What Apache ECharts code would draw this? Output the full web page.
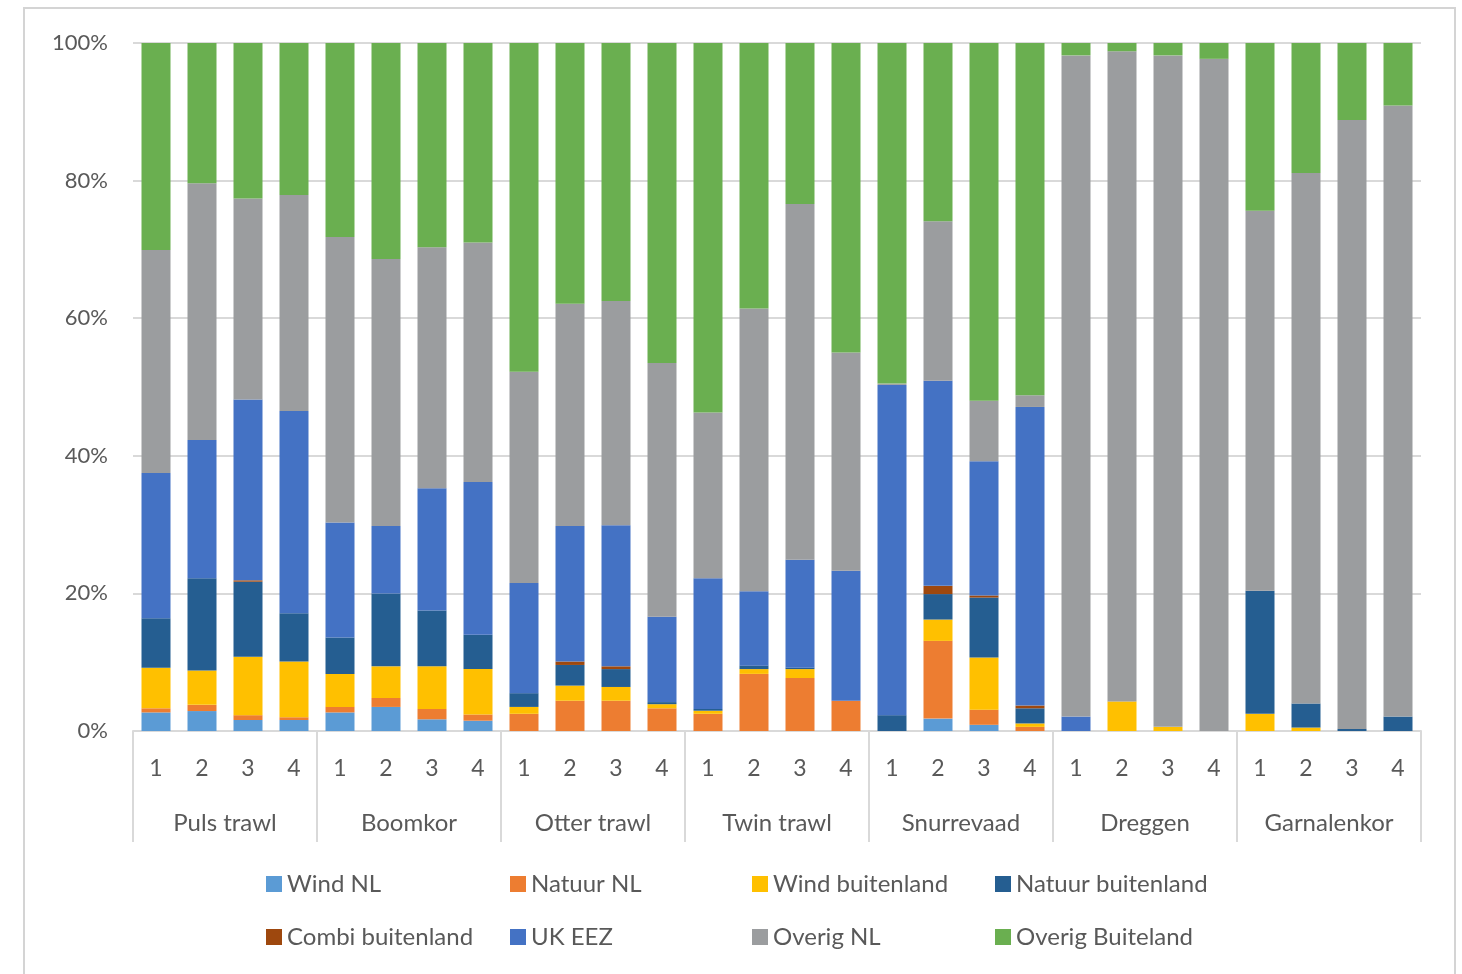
<!DOCTYPE html>
<html>
<head>
<meta charset="utf-8">
<script src="https://cdn.jsdelivr.net/npm/echarts@6/dist/echarts.min.js"></script>
<style>
  html, body { margin: 0; padding: 0; background: #fff; }
  #chart { width: 1462px; height: 974px; }
</style>
</head>
<body>
<div id="chart"></div>
<script>
// gear types and the four sub-bars per group
const groups = ['Puls trawl', 'Boomkor', 'Otter trawl', 'Twin trawl', 'Snurrevaad', 'Dreggen', 'Garnalenkor']
const subLabels = ['1', '2', '3', '4']
const yTicks = [0, 20, 40, 60, 80, 100]

// shares (%) per bar, 7 groups x 4 bars
const windNL = [2.7, 2.9, 1.6, 1.6, 2.7, 3.5, 1.7, 1.5, 0, 0, 0, 0, 0, 0, 0, 0, 0, 1.8, 0.9, 0, 0, 0, 0, 0, 0, 0, 0, 0]
const natuurNL = [0.6, 0.9, 0.7, 0.4, 0.8, 1.3, 1.5, 0.9, 2.5, 4.4, 4.4, 3.3, 2.5, 8.3, 7.7, 4.4, 0, 11.3, 2.2, 0.6, 0, 0, 0, 0, 0, 0, 0, 0]
const windBuitenland = [5.9, 5.0, 8.5, 8.1, 4.8, 4.6, 6.2, 6.6, 1.0, 2.2, 2.0, 0.6, 0.45, 0.7, 1.3, 0, 0, 3.1, 7.6, 0.5, 0, 4.3, 0.6, 0, 2.5, 0.5, 0, 0]
const natuurBuitenland = [7.2, 13.4, 10.9, 7.0, 5.3, 10.6, 8.1, 5.0, 2.0, 3.0, 2.6, 0.3, 0.25, 0.5, 0.2, 0, 2.3, 3.7, 8.7, 2.2, 0, 0, 0, 0, 17.9, 3.5, 0.3, 2.1]
const combiBuitenland = [0, 0, 0.2, 0, 0, 0, 0, 0, 0, 0.5, 0.4, 0, 0, 0, 0, 0, 0, 1.2, 0.3, 0.4, 0, 0, 0, 0, 0, 0, 0, 0]
const ukEEZ = [21.1, 20.1, 26.3, 29.4, 16.7, 9.8, 17.8, 22.2, 16.0, 19.7, 20.5, 12.4, 19.0, 10.8, 15.7, 18.9, 48.0, 29.8, 19.5, 43.4, 2.1, 0, 0, 0, 0, 0, 0, 0]
const overigNL = [32.4, 37.3, 29.2, 31.4, 41.5, 38.8, 35.0, 34.8, 30.7, 32.3, 32.6, 36.9, 24.1, 41.1, 51.7, 31.7, 0.2, 23.2, 8.8, 1.7, 96.1, 94.5, 97.6, 97.7, 55.2, 77.1, 88.5, 88.8]
const overigBuiteland = [30.1, 20.4, 22.6, 22.1, 28.2, 31.4, 29.7, 29.0, 47.8, 37.9, 37.5, 46.5, 53.7, 38.6, 23.4, 45.0, 49.5, 25.9, 52.0, 51.2, 1.8, 1.2, 1.8, 2.3, 24.4, 18.9, 11.2, 9.1]

const seriesNames = ['Wind NL', 'Natuur NL', 'Wind buitenland', 'Natuur buitenland', 'Combi buitenland', 'UK EEZ', 'Overig NL', 'Overig Buiteland']
const seriesData = [windNL, natuurNL, windBuitenland, natuurBuitenland, combiBuitenland, ukEEZ, overigNL, overigBuiteland]
const colors = ['#5B9BD5', '#ED7D31', '#FFC000', '#255E91', '#9E480E', '#4472C4', '#9B9D9F', '#6AAF50']

const categories = []
groups.forEach(() => subLabels.forEach(s => categories.push(s)))

const fontFamily = 'Lato, "Open Sans", sans-serif'
const textColor = '#595959'
const lineColor = '#d9d9d9'

const chart = echarts.init(document.getElementById('chart'))

// legend in 4 columns, 2 rows each
const legendCols = [266, 510, 752, 995]
const legends = legendCols.map((left, i) => ({
  left: left,
  top: 872,
  padding: 0,
  orient: 'vertical',
  data: [seriesNames[i], seriesNames[i + 4]],
  icon: 'rect',
  itemWidth: 16,
  itemHeight: 16,
  itemGap: 29,
  selectedMode: false,
  textStyle: { fontSize: 24, color: textColor, fontFamily: fontFamily }
}))

chart.setOption({
  animation: false,
  color: colors,
  graphic: [{
    type: 'rect',
    shape: { x: 24, y: 8, width: 1431, height: 980 },
    style: { fill: 'none', stroke: '#d4d4d4', lineWidth: 2 },
    silent: true
  }],
  legend: legends,
  grid: { left: 133, right: 41, top: 43, bottom: 243 },
  xAxis: [{
    type: 'category',
    data: categories,
    axisLine: { lineStyle: { color: lineColor, width: 2 } },
    axisTick: { show: false },
    axisLabel: { interval: 0, margin: 26, fontSize: 23, color: textColor, fontFamily: fontFamily }
  }, {
    type: 'category',
    data: groups,
    position: 'bottom',
    axisLine: { show: false },
    axisTick: { show: true, interval: 0, length: 111, lineStyle: { color: lineColor, width: 2 } },
    axisLabel: { interval: 0, margin: 80, fontSize: 24, color: textColor, fontFamily: fontFamily }
  }],
  yAxis: {
    type: 'value',
    min: yTicks[0],
    max: yTicks[yTicks.length - 1],
    interval: yTicks[1] - yTicks[0],
    axisLine: { show: false },
    axisTick: { show: false },
    splitLine: { lineStyle: { color: lineColor, width: 2 } },
    axisLabel: { formatter: '{value}%', margin: 25, fontSize: 22, color: textColor, fontFamily: fontFamily }
  },
  series: seriesNames.map((name, i) => ({
    name: name,
    type: 'bar',
    stack: 'total',
    xAxisIndex: 0,
    barWidth: 29,
    data: seriesData[i],
    itemStyle: { color: colors[i] }
  }))
})
</script>
</body>
</html>
